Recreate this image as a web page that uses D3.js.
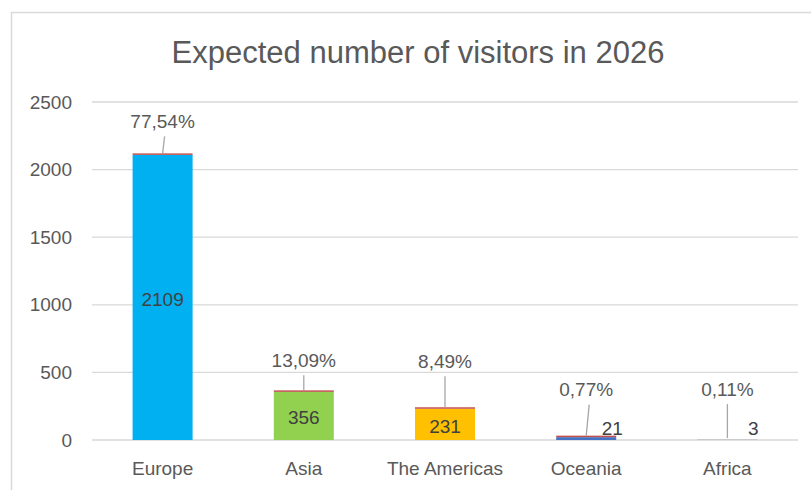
<!DOCTYPE html>
<html>
<head>
<meta charset="utf-8">
<script src="https://cdn.jsdelivr.net/npm/d3@7"></script>
<style>
  body { margin: 0; background: #fff; }
  text { font-family: "Liberation Sans", Arial, sans-serif; fill: #595959; }
</style>
</head>
<body>
<div id="chart"></div>
<script>
const categories = ["Europe", "Asia", "The Americas", "Oceania", "Africa"];
const visitors = [2109, 356, 231, 21, 3];
const shares = [77.54, 13.09, 8.49, 0.77, 0.11];
const yTicks = [0, 500, 1000, 1500, 2000, 2500];
const barColors = ["#00B0F0", "#92D050", "#FFC000", "#4472C4", "#A5A5A5"];

// layout tweaks for the hand-placed percentage labels
const labelLift = [32, 30, 46, 46, 49];
const leaderSlant = [2, 0, 0, 3, 0];
const showTop = [true, true, true, true, false];

const W = 811, H = 490;
const margin = { top: 102, right: 13, bottom: 50, left: 92 };
const width = W - margin.left - margin.right;
const height = H - margin.top - margin.bottom;

const svg = d3.select("#chart").append("svg")
    .attr("width", W)
    .attr("height", H);

// chart area border
svg.append("rect")
    .attr("x", 11.5).attr("y", 12.5)
    .attr("width", W).attr("height", H)
    .attr("fill", "none")
    .attr("stroke", "#D9D9D9")
    .attr("stroke-width", 1.5);

svg.append("text")
    .attr("x", 418).attr("y", 52)
    .attr("text-anchor", "middle")
    .attr("dominant-baseline", "central")
    .style("font-size", "31px")
    .text("Expected number of visitors in 2026");

const g = svg.append("g")
    .attr("transform", "translate(" + margin.left + "," + margin.top + ")");

const x = d3.scaleBand().domain(categories).range([0, width])
    .paddingInner(0.575).paddingOuter(0.2875);
const y = d3.scaleLinear().domain([0, 2500]).range([height, 0]);

// gridlines
g.selectAll(".grid")
    .data(yTicks)
    .enter().append("line")
    .attr("x1", 0).attr("x2", width)
    .attr("y1", d => y(d)).attr("y2", d => y(d))
    .attr("stroke", "#D9D9D9")
    .attr("stroke-width", 1.3);

// y tick labels
g.selectAll(".ytick")
    .data(yTicks)
    .enter().append("text")
    .attr("x", -20)
    .attr("y", d => y(d))
    .attr("text-anchor", "end")
    .attr("dominant-baseline", "central")
    .style("font-size", "19px")
    .text(d => d);

// x labels
g.selectAll(".xlab")
    .data(categories)
    .enter().append("text")
    .attr("x", d => x(d) + x.bandwidth() / 2)
    .attr("y", height + 28)
    .attr("text-anchor", "middle")
    .attr("dominant-baseline", "central")
    .style("font-size", "19px")
    .text(d => d);

const rows = categories.map((c, i) => ({ c, v: visitors[i], s: shares[i], i }));

// bars
g.selectAll(".bar")
    .data(rows)
    .enter().append("rect")
    .attr("x", d => x(d.c))
    .attr("width", x.bandwidth())
    .attr("y", d => y(d.v))
    .attr("height", d => height - y(d.v))
    .attr("fill", d => barColors[d.i]);

// thin share segment stacked on top
g.selectAll(".top")
    .data(rows.filter(d => showTop[d.i]))
    .enter().append("rect")
    .attr("x", d => x(d.c))
    .attr("width", x.bandwidth())
    .attr("y", d => y(d.v) - 1.5)
    .attr("height", 1.5)
    .attr("fill", "#C0504D");

// value labels
g.selectAll(".val")
    .data(rows)
    .enter().append("text")
    .attr("x", d => x(d.c) + x.bandwidth() / 2 + (d.v < 100 ? 26 : 0))
    .attr("y", d => d.v < 100 ? y(0) - 12 : (y(d.v) + y(0)) / 2 + 2)
    .attr("text-anchor", "middle")
    .attr("dominant-baseline", "central")
    .style("font-size", "19px")
    .style("fill", "#404040")
    .text(d => d.v);

const fmt = v => v.toFixed(2).replace(".", ",") + "%";

// leader lines
g.selectAll(".leader")
    .data(rows)
    .enter().append("line")
    .attr("x1", d => x(d.c) + x.bandwidth() / 2 + leaderSlant[d.i])
    .attr("x2", d => x(d.c) + x.bandwidth() / 2)
    .attr("y1", d => y(d.v) - 1.5 - labelLift[d.i] + 15)
    .attr("y2", d => y(d.v) - 1.5)
    .attr("stroke", "#A6A6A6")
    .attr("stroke-width", 1.3);

// share labels
g.selectAll(".share")
    .data(rows)
    .enter().append("text")
    .attr("x", d => x(d.c) + x.bandwidth() / 2)
    .attr("y", d => y(d.v) - 1.5 - labelLift[d.i])
    .attr("text-anchor", "middle")
    .attr("dominant-baseline", "central")
    .style("font-size", "19px")
    .text(d => fmt(d.s));
</script>
</body>
</html>
